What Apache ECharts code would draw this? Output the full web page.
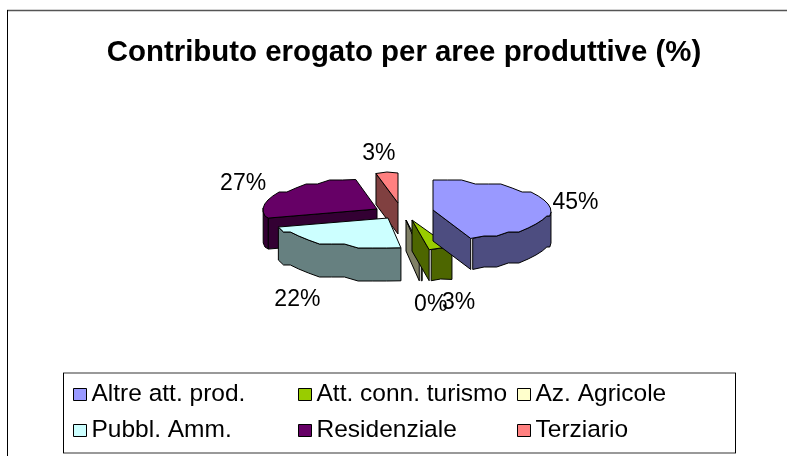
<!DOCTYPE html>
<html>
<head>
<meta charset="utf-8">
<style>html,body{margin:0;padding:0;background:#fff}#main{width:787px;height:456px}</style>
<script src="https://cdn.jsdelivr.net/npm/echarts@6/dist/echarts.min.js"></script>
</head>
<body>
<div id="main"></div>
<script>
var categories = ['Altre att. prod.', 'Att. conn. turismo', 'Az. Agricole', 'Pubbl. Amm.', 'Residenziale', 'Terziario'];
var values = [45, 3, 0.4, 22, 27, 3];
var labels = ['45%', '3%', '0%', '22%', '27%', '3%'];
var topColors = ['#9999FF', '#99CC00', '#FFFFCC', '#CCFFFF', '#660066', '#FF8080'];
var sideColors = ['#4D4D80', '#4D6600', '#808066', '#668080', '#330033', '#804040'];

// pie shape, exploded slice centres and label nudges (px)
var radiiX = [118, 125, 118, 115, 114, 118];
var depths = [31, 31, 31, 33, 31, 31];
var ry = 30;
var centres = [[433, 210], [412, 220], [406, 220], [388, 218], [377, 209], [398, 203]];
var nudges = [[26, -2], [18, 53], [10, 55], [-28, 56], [-36, -10], [-8, -19]];
var layers = [7, 6, 5, 4, 3, 2];
var font = '"Liberation Sans", Arial, sans-serif';

var total = values.reduce(function(a, b) { return a + b; }, 0);

function startAngle(i) {
  var sum = 0;
  for (var k = 0; k < i; k++) sum += values[k];
  return sum / total * 2 * Math.PI;
}

function rimPoint(c, rx, a) {
  return [c[0] + rx * Math.sin(a), c[1] - ry * Math.cos(a)];
}

function renderSlice(i, api) {
  var c = centres[i];
  var rx = radiiX[i];
  var depth = depths[i];
  var a0 = startAngle(i);
  var a1 = a0 + api.value(0) / total * 2 * Math.PI;

  // rim is sampled coarsely and snapped, the original has a stepped outline
  var rim = [rimPoint(c, rx, a0)];
  var n = Math.max(1, Math.round((a1 - a0) / (7 * Math.PI / 180)));
  for (var s = 1; s < n; s++) {
    var p = rimPoint(c, rx, a0 + (a1 - a0) * s / n);
    rim.push([p[0], Math.round(p[1] / 4) * 4]);
  }
  rim.push(rimPoint(c, rx, a1));
  var outline = [c].concat(rim);
  var endPt = rim[rim.length - 1];
  var endFace = c[0] < endPt[0];

  var children = [];
  var stroke = { fill: sideColors[i], stroke: '#000', lineWidth: 1 };

  // side faces: only edges running leftwards face the viewer
  var wall = [];
  function flushWall() {
    if (wall.length < 2) { wall = []; return; }
    var lower = wall.map(function(p) { return [p[0], p[1] + depth]; }).reverse();
    children.push({ type: 'polygon', shape: { points: wall.concat(lower) }, style: stroke });
    wall = [];
  }
  for (var e = 1; e < rim.length; e++) {
    if (rim[e][0] < rim[e - 1][0]) {
      if (!wall.length) wall.push(rim[e - 1]);
      // small white gap between the rim wall and the cut face
      wall.push(endFace && e === rim.length - 1 ? [rim[e][0] + 2, rim[e][1]] : rim[e]);
    } else {
      flushWall();
    }
  }
  flushWall();
  if (endFace) {
    children.push({ type: 'polygon', shape: { points: [endPt, c, [c[0], c[1] + depth], [endPt[0], endPt[1] + depth]] }, style: stroke });
  }
  if (rim[0][0] < c[0]) {
    children.push({ type: 'polygon', shape: { points: [c, rim[0], [rim[0][0], rim[0][1] + depth], [c[0], c[1] + depth]] }, style: stroke });
  }

  children.push({ type: 'polygon', shape: { points: outline }, style: { fill: topColors[i], stroke: '#000', lineWidth: 1 } });

  var mid = rimPoint(c, rx, (a0 + a1) / 2);
  children.push({
    type: 'text',
    x: mid[0] + nudges[i][0],
    y: mid[1] + nudges[i][1],
    style: { text: labels[i], font: '23px ' + font, fill: '#000', align: 'center', verticalAlign: 'middle' }
  });

  return { type: 'group', children: children };
}

var series = categories.map(function(name, i) {
  return {
    type: 'custom',
    name: name,
    coordinateSystem: 'none',
    z: layers[i],
    itemStyle: { color: topColors[i] },
    data: [[values[i]]],
    renderItem: function(params, api) { return renderSlice(i, api); }
  };
});

function legendColumn(names, left) {
  return {
    orient: 'vertical',
    left: left,
    top: 382,
    padding: 0,
    itemWidth: 13,
    itemHeight: 12,
    itemGap: 11,
    icon: 'rect',
    selectedMode: false,
    data: names,
    itemStyle: { borderColor: '#000', borderWidth: 1 },
    textStyle: { fontFamily: font, fontSize: 24.5, lineHeight: 24, color: '#000' }
  };
}

function line(x1, y1, x2, y2, color, width) {
  return { type: 'line', silent: true, z: 0,
    shape: { x1: x1, y1: y1, x2: x2, y2: y2 },
    style: { stroke: color, lineWidth: width } };
}

var myChart = echarts.init(document.getElementById('main'), null, { renderer: 'canvas' });

myChart.setOption({
  animation: false,
  backgroundColor: '#fff',
  title: {
    text: 'Contributo erogato per aree produttive (%)',
    left: 404,
    top: 38,
    padding: 0,
    textAlign: 'center',
    textStyle: { fontFamily: font, fontSize: 29.4, fontWeight: 'bold', color: '#000' }
  },
  legend: [
    legendColumn([categories[0], categories[3]], 73),
    legendColumn([categories[1], categories[4]], 298),
    legendColumn([categories[2], categories[5]], 517)
  ],
  graphic: [
    line(7, 10.5, 787, 10.5, '#555', 1.5),
    line(7.5, 10, 7.5, 456, '#000', 1),
    line(63, 373, 736, 373, '#777', 1.5),
    line(63, 453, 736, 453, '#777', 1.5),
    line(63.5, 373, 63.5, 453, '#000', 1),
    line(735.5, 373, 735.5, 453, '#000', 1)
  ],
  series: series
});
</script>
</body>
</html>
